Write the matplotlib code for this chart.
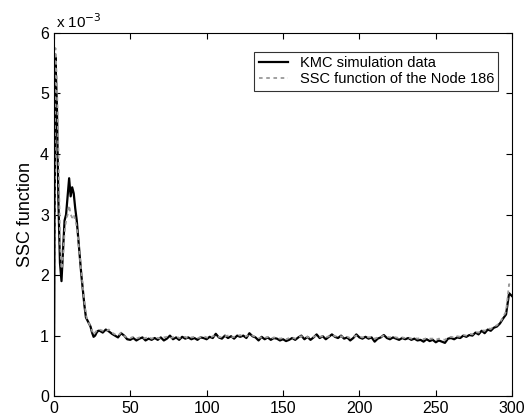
import numpy as np
import matplotlib.pyplot as plt

plt.rcParams['font.family'] = ['Liberation Sans', 'DejaVu Sans']

# values in units of 1e-3
# x = 0..29 step 1
kmc_head = [0, 5.6, 4.8, 3.2, 2.2, 1.9, 2.4, 2.9, 3.0, 3.3, 3.6, 3.3, 3.45, 3.35, 3.1,
            2.9, 2.6, 2.3, 2.0, 1.75, 1.5, 1.3, 1.25, 1.2, 1.15, 1.05, 0.98, 1.0, 1.05, 1.08]
ssc_head = [0, 5.75, 5.2, 4.0, 2.6, 2.1, 2.3, 2.7, 2.9, 3.0, 3.15, 3.0, 2.95, 3.0, 2.9,
            2.8, 2.55, 2.3, 2.05, 1.8, 1.55, 1.35, 1.25, 1.2, 1.15, 1.08, 1.02, 1.05, 1.08, 1.1]

# x = 30..300 step 2
kmc_tail = [1.08, 1.05, 1.1, 1.07, 1.03, 1.0, 0.97, 1.04, 1.0, 0.94,
            0.93, 0.96, 0.92, 0.95, 0.97, 0.92, 0.95, 0.93, 0.96, 0.93,
            0.97, 0.92, 0.95, 1.0, 0.94, 0.97, 0.93, 0.98, 0.95, 0.97,
            0.94, 0.96, 0.93, 0.97, 0.96, 0.94, 0.98, 0.96, 1.03, 0.97,
            0.95, 1.0, 0.96, 0.99, 0.95, 1.0, 0.98, 1.0, 0.96, 1.04,
            0.99, 0.97, 0.92, 0.98, 0.94, 0.97, 0.93, 0.96, 0.95, 0.92,
            0.94, 0.91, 0.93, 0.96, 0.93, 0.97, 1.0, 0.94, 0.98, 0.93,
            0.97, 1.02, 0.96, 0.99, 0.94, 0.98, 1.02, 0.98, 0.96, 1.0,
            0.95, 0.97, 0.92, 0.96, 1.02, 0.97, 0.95, 0.98, 0.95, 0.97,
            0.9, 0.95, 0.97, 1.01, 0.96, 0.94, 0.97, 0.95, 0.93, 0.96,
            0.94, 0.96, 0.93, 0.95, 0.92, 0.93, 0.9, 0.94, 0.91, 0.93,
            0.89, 0.92, 0.9, 0.88, 0.95, 0.96, 0.94, 0.97, 0.96, 1.0,
            0.98, 1.01, 1.0, 1.05, 1.02, 1.08, 1.04, 1.1, 1.08, 1.13,
            1.15, 1.2, 1.28, 1.35, 1.7, 1.65]
ssc_tail = [1.1, 1.08, 1.07, 1.1, 1.05, 1.02, 1.0, 1.05, 0.99, 0.97,
            0.96, 0.98, 0.95, 0.97, 0.95, 0.96, 0.98, 0.95, 0.97, 0.96,
            0.95, 0.97, 0.98, 0.96, 0.97, 0.99, 0.96, 0.97, 0.98, 0.95,
            0.97, 0.98, 0.96, 0.97, 0.99, 0.97, 0.96, 0.99, 1.0, 0.98,
            0.97, 0.99, 1.0, 0.97, 0.98, 0.99, 1.01, 0.98, 0.99, 1.02,
            1.0, 0.98, 0.96, 0.97, 0.96, 0.98, 0.95, 0.97, 0.96, 0.95,
            0.96, 0.94, 0.96, 0.97, 0.95, 0.98, 0.99, 0.97, 0.98, 0.96,
            0.98, 1.0, 0.98, 0.99, 0.97, 0.99, 1.01, 0.99, 0.98, 0.99,
            0.97, 0.98, 0.96, 0.98, 1.0, 0.98, 0.97, 0.99, 0.97, 0.98,
            0.95, 0.97, 0.98, 1.0, 0.98, 0.97, 0.98, 0.97, 0.96, 0.97,
            0.96, 0.97, 0.95, 0.96, 0.95, 0.96, 0.94, 0.96, 0.95, 0.95,
            0.93, 0.95, 0.94, 0.93, 0.97, 0.98, 0.97, 0.99, 0.98, 1.01,
            1.0, 1.03, 1.02, 1.06, 1.05, 1.09, 1.08, 1.12, 1.11, 1.15,
            1.17, 1.22, 1.3, 1.4, 1.85, 1.8]

x = np.concatenate([np.arange(0, 30), np.arange(30, 301, 2)])
kmc = np.array(kmc_head + kmc_tail) * 1e-3
ssc = np.array(ssc_head + ssc_tail) * 1e-3

fig = plt.figure(figsize=(5.28, 4.17), dpi=100)
ax = fig.add_axes([0.102, 0.05, 0.868, 0.871])

ax.plot(x, kmc, color='black', lw=1.6, label='KMC simulation data')
ax.plot(x, ssc, color='#999999', lw=1.3, ls=(0, (2, 2)), label='SSC function of the Node 186')

ax.set_xlim(0, 300)
ax.set_ylim(0, 6e-3)
ax.set_xticks(np.arange(0, 301, 50))
ax.set_yticks(np.arange(0, 7) * 1e-3)
ax.set_yticklabels([str(i) for i in range(7)])
ax.tick_params(direction='in', top=True, right=True, labelsize=11.5, length=4)
ax.set_ylabel('SSC function', fontsize=13)
ax.text(0.005, 1.005, r'x 10$^{-3}$', transform=ax.transAxes, fontsize=11,
        ha='left', va='bottom')

leg = ax.legend(loc='upper right', bbox_to_anchor=(0.97, 0.948), fontsize=10.5,
                frameon=True, fancybox=False, edgecolor='black', handlelength=2.0,
                borderaxespad=0, labelspacing=0.15, borderpad=0.3)
leg.get_frame().set_linewidth(0.8)

fig.savefig('out.png', dpi=100)
